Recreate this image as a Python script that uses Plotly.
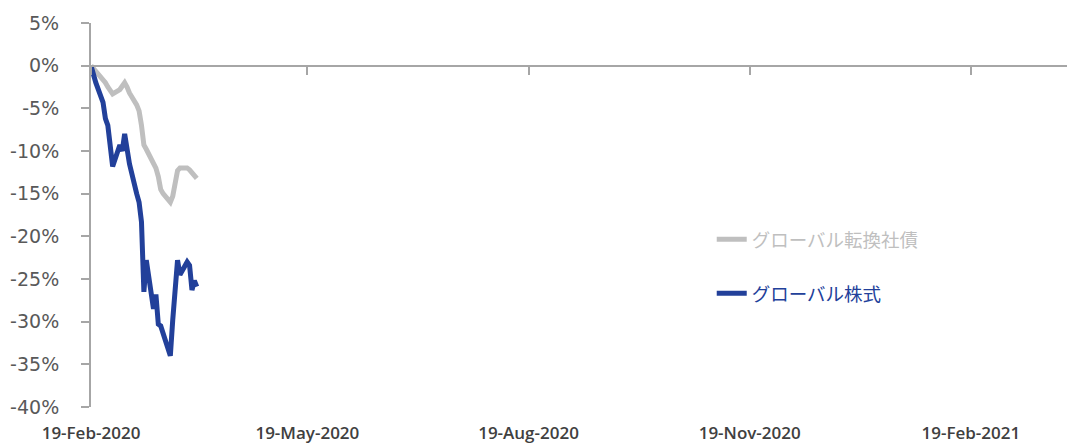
import plotly.graph_objects as go

dates = ["2020-02-19", "2020-02-20", "2020-02-21", "2020-02-24", "2020-02-25", "2020-02-26",
         "2020-02-27", "2020-02-28", "2020-03-02", "2020-03-03", "2020-03-04", "2020-03-05",
         "2020-03-06", "2020-03-09", "2020-03-10", "2020-03-11", "2020-03-12", "2020-03-13",
         "2020-03-16", "2020-03-17", "2020-03-18", "2020-03-19", "2020-03-20", "2020-03-23",
         "2020-03-24", "2020-03-25", "2020-03-26", "2020-03-27", "2020-03-30", "2020-03-31",
         "2020-04-01", "2020-04-02", "2020-04-03"]

convertible = [0, -0.3, -0.8, -1.5, -2.0, -2.5, -3.0, -3.3, -2.8, -2.3, -2.0, -2.5,
               -3.2, -4.6, -5.3, -7.0, -9.3, -9.8, -11.3, -12.0, -13.0, -14.5, -15.0, -16.0,
               -15.3, -14.0, -12.3, -12.0, -12.0, -12.2, -12.6, -12.9, -13.2]

equity = [0, -1.0, -2.0, -4.3, -6.2, -7.0, -9.8, -11.8, -9.3, -10.0, -8.0, -9.5,
          -11.5, -15.0, -16.0, -18.3, -26.5, -22.8, -28.5, -26.8, -30.3, -30.5, -31.5, -34.0,
          -29.8, -26.3, -22.8, -24.5, -23.0, -23.4, -26.3, -25.2, -25.9]

series_names = ["グローバル転換社債", "グローバル株式"]
series_colors = ["#BFBFBF", "#22409A"]

x_tickvals = ["2020-02-19", "2020-05-19", "2020-08-19", "2020-11-19", "2021-02-19"]
x_ticktext = ["19-Feb-2020", "19-May-2020", "19-Aug-2020", "19-Nov-2020", "19-Feb-2021"]
x_range = ["2020-02-19", "2021-03-31"]

y_tickvals = [5, 0, -5, -10, -15, -20, -25, -30, -35, -40]
y_ticktext = ["5%", "0%", "-5%", "-10%", "-15%", "-20%", "-25%", "-30%", "-35%", "-40%"]

fig = go.Figure()
for name, vals, col, w, grp in [
    (series_names[0], convertible, series_colors[0], 5, "a"),
    (series_names[1], equity, series_colors[1], 5, "b"),
]:
    fig.add_trace(go.Scatter(
        x=dates, y=vals, mode="lines",
        name=f"<span style='color:{col}'>{name}</span>",
        line=dict(color=col, width=w), legendgroup=grp,
    ))

# helper trace on the zero-line axis so it renders
fig.add_trace(go.Scatter(x=dates, y=equity, xaxis="x2", mode="lines",
                         line=dict(width=0), opacity=0, showlegend=False, hoverinfo="skip"))

zero_pos = (0 - (-40)) / (5 - (-40))

fig.update_layout(
    width=1067, height=444,
    margin=dict(l=91, r=0, t=23, b=37),
    paper_bgcolor="white", plot_bgcolor="white",
    font=dict(family="Open Sans, Noto Sans CJK JP", color="#404040"),
    showlegend=True,
    legend=dict(
        x=0.636, y=0.485, xanchor="left", yanchor="top",
        traceorder="grouped", tracegroupgap=27,
        font=dict(family="Noto Sans CJK JP", size=18.5),
        bgcolor="rgba(0,0,0,0)",
    ),
    xaxis=dict(
        type="date", range=x_range,
        tickvals=x_tickvals, ticktext=x_ticktext,
        showline=False, showgrid=False, zeroline=False, ticks="",
        ticklabelstandoff=14,
        tickfont=dict(family="Open Sans", size=17, color="#404040", weight=600),
    ),
    xaxis2=dict(
        type="date", matches="x", overlaying="x", anchor="free", position=zero_pos,
        side="bottom",
        tickvals=x_tickvals, showticklabels=False,
        showline=True, linecolor="#A6A6A6", linewidth=2,
        ticks="outside", ticklen=8, tickwidth=2, tickcolor="#A6A6A6",
        showgrid=False, zeroline=False,
    ),
    yaxis=dict(
        range=[-40, 5], tickvals=y_tickvals, ticktext=y_ticktext,
        showline=True, linecolor="#A6A6A6", linewidth=2,
        ticks="outside", ticklen=8, tickwidth=2, tickcolor="#A6A6A6",
        showgrid=False, zeroline=False,
        tickfont=dict(family="DejaVu Sans", size=19, color="#595959"),
        ticklabelstandoff=18,
    ),
)

fig.write_html("out.html")
